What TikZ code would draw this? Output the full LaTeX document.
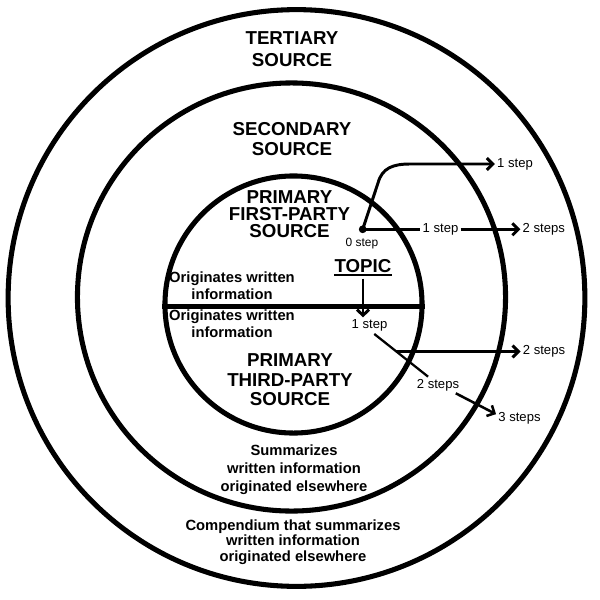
\documentclass[tikz,border=0pt]{standalone}
\usepackage{fontspec}
\setmainfont{Liberation Sans}
\usetikzlibrary{arrows.meta}

\begin{document}
\begin{tikzpicture}[
    x=0.025cm, y=-0.025cm,
    every node/.style={align=center, inner sep=0pt},
    ring/.style={circle, draw=black, line width=3.6pt, inner sep=0pt},
    heading/.style={font=\bfseries\fontsize{13.3}{#1}\selectfont},
    heading/.default=14,
    remark/.style={font=\bfseries\fontsize{10.5}{#1}\selectfont},
    remark/.default=11.8,
    steplabel/.style={font=\fontsize{9.3}{10}\selectfont, inner sep=1.5pt},
    arrow/.style={line width=2.1pt, -{Straight Barb[length=4.2pt,width=8.5pt]}},
    link/.style={line width=2.1pt}
]
\useasboundingbox (0,0) rectangle (600,600);

% --- Rings ---
\node[ring, minimum size=14.415cm] (tertiary) at (296.5,298) {};
\node[ring, minimum size=10.7cm] (secondary) at (291.5,297) {};
\node[ring, minimum size=6.425cm] (primary) at (293.5,304.5) {};
\draw[line width=3.6pt] ([yshift=-1.4pt]primary.west) -- ([yshift=-1.4pt]primary.east);

% --- Headings ---
\node[heading=15.6] (tertlbl) at (292,49.5) {TERTIARY\\SOURCE};
\node[heading=14.2] (seclbl) at (292,139) {SECONDARY\\SOURCE};
\node[heading=12] (firstlbl) at (289.5,214) {PRIMARY\\FIRST-PARTY\\SOURCE};
\node[heading=13.8] (thirdlbl) at (290,380) {PRIMARY\\THIRD-PARTY\\SOURCE};
\node[heading] (topic) at (363,266) {TOPIC};
\draw[line width=1.4pt] ([yshift=-1.6pt]topic.south west) -- ([yshift=-1.6pt]topic.south east);

% --- Remarks ---
\node[remark] (origup) at (232,285.5) {Originates written\\information};
\node[remark] (origlow) at (232,324) {Originates written\\information};
\node[remark=12.8] (summ) at (294,470) {Summarizes\\written information\\originated elsewhere};
\node[remark=11] (comp) at (293,542) {Compendium that summarizes\\written information\\originated elsewhere};

% --- Steps ---
\node[circle, fill=black, minimum size=5.5pt] (dot) at (362.7,229.3) {};
\node[steplabel, font=\fontsize{8.5}{10}\selectfont] (zero) at (362,244) {0 step};
\node[steplabel] (oneA) at (515,164) {1 step};
\node[steplabel] (oneB) at (440.5,229.3) {1 step};
\node[steplabel] (twoA) at (543.8,229.3) {2 steps};
\node[steplabel] (oneC) at (369.5,325.7) {1 step};
\node[steplabel] (twoB) at (544,351.7) {2 steps};
\node[steplabel] (twoC) at (438,385) {2 steps};
\node[steplabel] (threeC) at (519.5,418.3) {3 steps};

% --- Arrows ---
\draw[arrow] (dot.center) -- (378,183) .. controls (382,168) and (393,164) .. (410,164) -- (oneA.west);
\draw[link] (dot.center) -- (oneB.west);
\draw[arrow] (oneB.east) -- (twoA.west);
\draw[arrow] ([yshift=-4pt]topic.south) -- (topic.south |- oneC.north);
\draw[link, line width=1.6pt] (oneC.-60) -- coordinate[pos=0.41] (fork) (twoC.140);
\draw[arrow] (fork) -- (fork -| twoB.west);
\draw[arrow, line width=1.8pt] (twoC.-25) -- (threeC.170);

\end{tikzpicture}
\end{document}
